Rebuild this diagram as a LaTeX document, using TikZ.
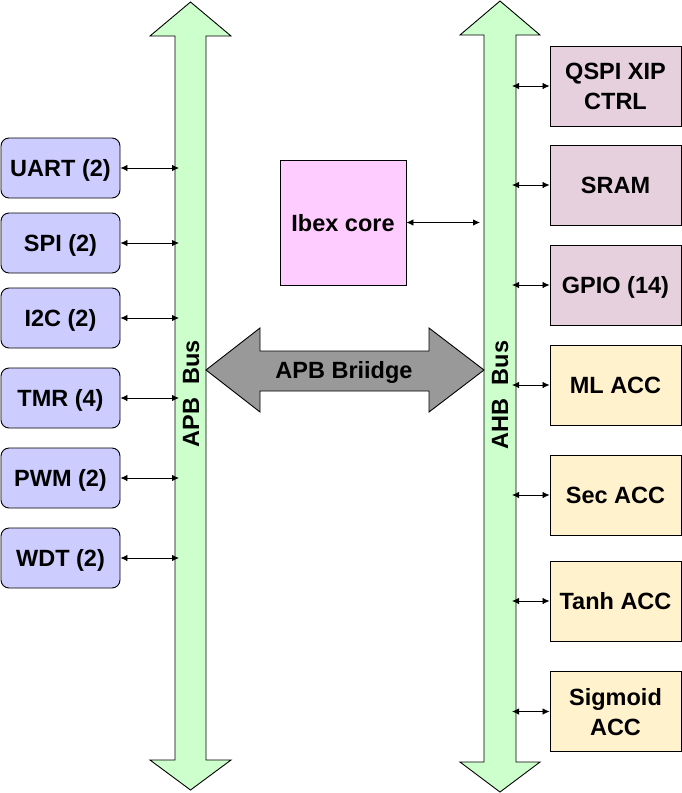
\documentclass[tikz,border=0pt]{standalone}
\usepackage{fontspec}
\setmainfont{Liberation Sans}
\usepackage{tikz}
\usetikzlibrary{calc,shapes,backgrounds,arrows.meta}
\definecolor{busgreen}{HTML}{CCFFCC}
\definecolor{perblue}{HTML}{CCCCFF}
\definecolor{memmauve}{HTML}{E6D0DE}
\definecolor{accyellow}{HTML}{FFF2CC}
\definecolor{corepink}{HTML}{FFCCFF}
\definecolor{bridgegray}{HTML}{999999}

\begin{document}
\begin{tikzpicture}[x=1pt,y=-1pt,
  font=\fontsize{23.5}{30}\selectfont\bfseries,
  every node/.style={text depth=0pt},
  bus/.style={fill=busgreen, draw=black, line width=0.9pt},
  periph/.style={draw=black, fill=perblue, rounded corners=8pt, minimum width=119pt, minimum height=60pt, line width=0.9pt},
  mem/.style={draw=black, fill=memmauve, minimum width=131pt, minimum height=80pt, align=center, line width=0.9pt},
  acc/.style={mem, fill=accyellow},
  link/.style={{Latex[length=7pt,width=6.5pt]}-{Latex[length=7pt,width=6.5pt]}, line width=0.8pt}]
\useasboundingbox (0,0) rectangle (682,793);
% buses
\draw[bus] (175,36) -- (150,36) -- (190.5,2) -- (231,36) -- (206,36) -- (206,760)
  -- (231,760) -- (190.5,790) -- (150,760) -- (175,760) -- cycle;
\draw[bus] (484,35) -- (460,35) -- (500,1) -- (540,35) -- (516,35) -- (516,762)
  -- (540,762) -- (500,792) -- (460,762) -- (484,762) -- cycle;
\node[rotate=90] (apblbl) at (191,394) {APB~~Bus};
\node[rotate=90] (ahblbl) at (500,395) {AHB~~Bus};
\coordinate (apbtap) at (179,0);
\coordinate (ahbtap) at (512,0);
% bridge
\draw[fill=bridgegray, line width=0.9pt] (206,370) -- (260,328) -- (260,351) -- (429,351) -- (429,328)
  -- (484,370) -- (429,412) -- (429,391) -- (260,391) -- (260,412) -- cycle;
\node (bridge) at (344,370) {APB Briidge};
% core
\node[draw=black, fill=corepink, minimum width=126pt, minimum height=125pt, line width=0.9pt] (ibex) at (343,222.5) {Ibex core};
\coordinate (coretap) at (480,0);
\draw[link] (ibex.east) -- (ibex.east -| coretap);
% APB peripherals
\node[periph] (uart) at (60.5,168) {UART (2)};
\node[periph] (spi) at (60.5,243) {SPI (2)};
\node[periph] (iic) at (60.5,318) {I2C (2)};
\node[periph] (tmr) at (60.5,398) {TMR (4)};
\node[periph] (pwm) at (60.5,478) {PWM (2)};
\node[periph] (wdt) at (60.5,558) {WDT (2)};
\foreach \p in {uart,spi,iic,tmr,pwm,wdt}
  \draw[link] (\p.east) -- (\p.east -| apbtap);
% AHB slaves
\node[mem] (qspi) at (615.5,86) {QSPI XIP\\CTRL};
\node[mem] (sram) at (615.5,185) {SRAM};
\node[mem] (gpio) at (615.5,285) {GPIO (14)};
\node[acc] (mlacc) at (615.5,385) {ML ACC};
\node[acc] (secacc) at (615.5,495) {Sec ACC};
\node[acc] (tanhacc) at (615.5,601) {Tanh ACC};
\node[acc] (sigacc) at (615.5,711.5) {Sigmoid\\ACC};
\foreach \s in {qspi,sram,gpio,mlacc,secacc,tanhacc,sigacc}
  \draw[link] (\s.west) -- (\s.west -| ahbtap);
\end{tikzpicture}
\end{document}
